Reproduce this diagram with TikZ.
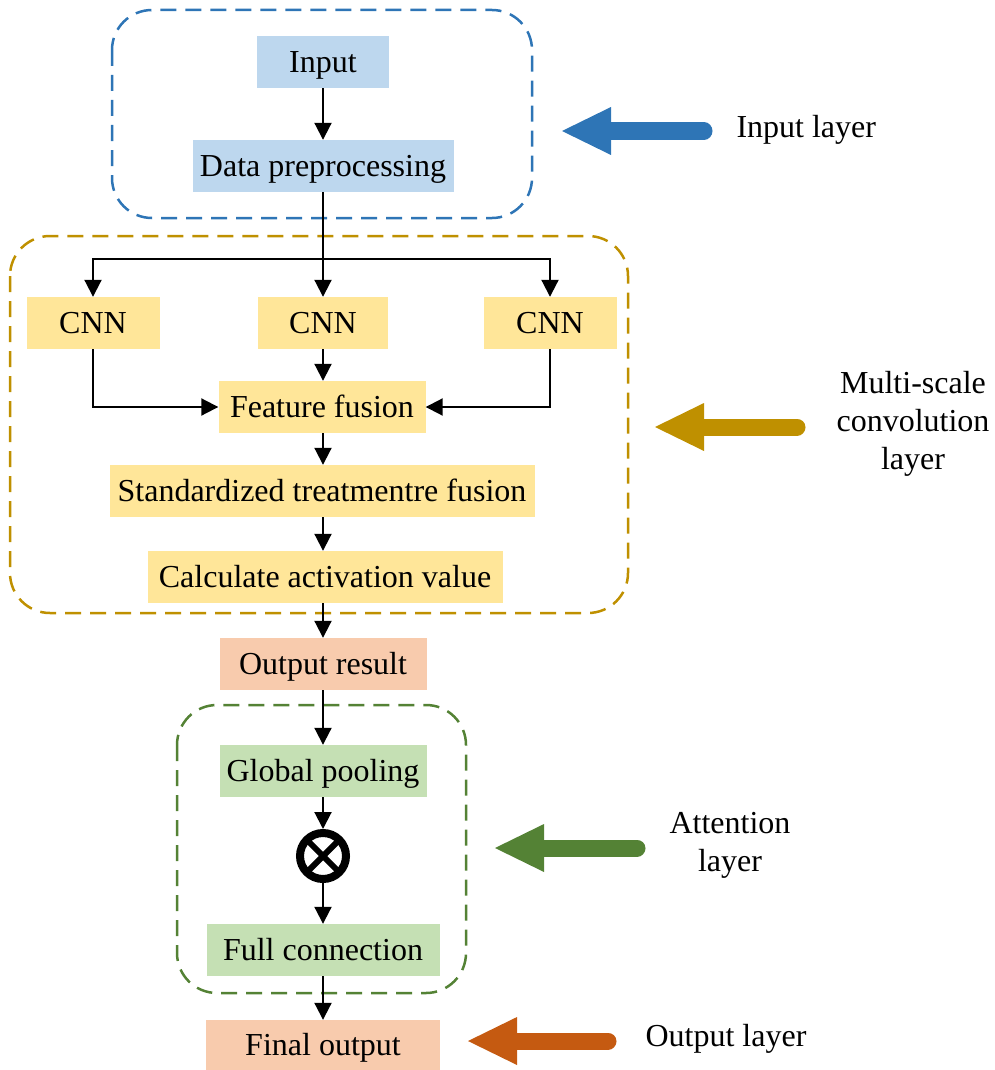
\documentclass[tikz,border=0pt]{standalone}
\usepackage{fontspec}
\setmainfont{Liberation Serif}
\usetikzlibrary{arrows.meta,calc}
\definecolor{bfill}{HTML}{BDD7EE}
\definecolor{bline}{HTML}{2E75B6}
\definecolor{gfill}{HTML}{FFE699}
\definecolor{gline}{HTML}{BF9000}
\definecolor{pfill}{HTML}{F8CBAD}
\definecolor{oline}{HTML}{C55A11}
\definecolor{nfill}{HTML}{C5E0B4}
\definecolor{nline}{HTML}{548235}
\begin{document}
\begin{tikzpicture}[x=1pt,y=-1pt,
  font=\fontsize{32}{38}\selectfont,
  box/.style={inner sep=0pt,minimum height=52pt,anchor=center,text height=28pt,text depth=7pt},
  arr/.style={line width=2pt,-{Triangle[length=17pt,width=17pt]}},
  group/.style={line width=2.5pt,dash pattern=on 16pt off 9pt,rounded corners=40pt},
  bigarrow/.style={line width=17pt,line cap=round},
  lbl/.style={align=center,font=\fontsize{32}{38}\selectfont}
]
\useasboundingbox (0,0) rectangle (995,1070);
% groups
\draw[group,bline] (112,10) rectangle (532,218);
\draw[group,gline] (10,236) rectangle (628,613);
\draw[group,nline] (177,705) rectangle (466,993);
% nodes
\node[box,fill=bfill,minimum width=132pt] (in) at (323,62) {Input};
\node[box,fill=bfill,minimum width=261pt] (dp) at (323,166) {Data preprocessing};
\node[box,fill=gfill,minimum width=133pt] (c1) at (93,323) {CNN};
\node[box,fill=gfill,minimum width=130pt] (c2) at (323,323) {CNN};
\node[box,fill=gfill,minimum width=133pt] (c3) at (550,323) {CNN};
\node[box,fill=gfill,minimum width=207pt] (ff) at (322,407) {Feature fusion};
\node[box,fill=gfill,minimum width=425pt] (st) at (322,491) {Standardized treatmentre fusion};
\node[box,fill=gfill,minimum width=355pt] (ca) at (325,577) {Calculate activation value};
\node[box,fill=pfill,minimum width=207pt] (or) at (323,664) {Output result};
\node[box,fill=nfill,minimum width=207pt] (gp) at (323,771) {Global pooling};
\node[circle,draw,line width=8pt,minimum size=46pt,inner sep=0pt] (ot) at (323,856) {};
\node[box,fill=nfill,minimum width=233pt] (fc) at (323,950) {Full connection};
\node[box,fill=pfill,minimum width=234pt,minimum height=50pt] (fo) at (323,1045) {Final output};
% otimes cross
\begin{scope}
\clip (ot.center) circle (23pt);
\draw[line width=6pt] ($(ot.center)+(-17,-17)$) -- ($(ot.center)+(17,17)$);
\draw[line width=6pt] ($(ot.center)+(-17,17)$) -- ($(ot.center)+(17,-17)$);
\end{scope}
% connectors
\coordinate (sp) at (323,259);
\draw[arr] (in) -- (dp);
\draw[arr] (dp) -- (c2);
\draw[arr] (sp) -| (c1);
\draw[arr] (sp) -| (c3);
\draw[arr] (c2) -- (c2 |- ff.north);
\draw[arr] (c1) |- (ff);
\draw[arr] (c3) |- (ff);
\draw[arr] (ff.south -| c2) -- (st.north -| c2);
\draw[arr] (st.south -| c2) -- (ca.north -| c2);
\draw[arr] (ca.south -| c2) -- (or);
\draw[arr] (or) -- (gp);
\draw[arr] (gp) -- (ot);
\draw[arr] (ot) -- (fc);
\draw[arr] (fc) -- (fo);
% layer arrows
\draw[bigarrow,bline] (605,131) -- (704,131);
\fill[bline] (562,131) -- (611,107) -- (611,155) -- cycle;
\node[lbl,anchor=west] (l1) at (733,130) {Input layer};
\draw[bigarrow,gline] (698,427) -- (797,427);
\fill[gline] (655,427) -- (704,403) -- (704,451) -- cycle;
\node[lbl] (l2) at (913,424) {Multi-scale\\convolution\\layer};
\draw[bigarrow,nline] (538,848) -- (637,848);
\fill[nline] (495,848) -- (544,824) -- (544,872) -- cycle;
\node[lbl] (l3) at (730,845) {Attention\\layer};
\draw[bigarrow,oline] (511,1041) -- (608,1041);
\fill[oline] (468,1041) -- (517,1017) -- (517,1065) -- cycle;
\node[lbl,anchor=west] (l4) at (642,1039) {Output layer};
\end{tikzpicture}
\end{document}
